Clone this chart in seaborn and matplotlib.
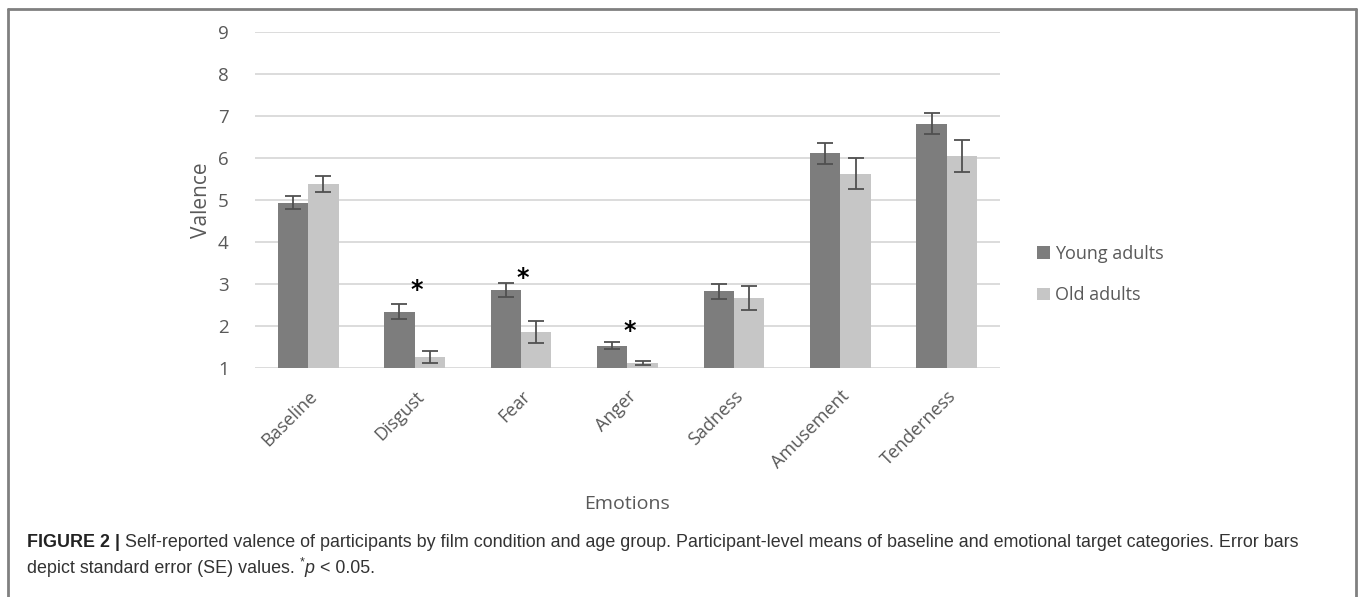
import pandas as pd
import numpy as np
import matplotlib.pyplot as plt
import seaborn as sns
from matplotlib.patches import Patch
from matplotlib.lines import Line2D

# data
emotions = ['Baseline', 'Disgust', 'Fear', 'Anger', 'Sadness', 'Amusement', 'Tenderness']
groups = ['Young adults', 'Old adults']
young_mean = [4.94, 2.34, 2.86, 1.53, 2.83, 6.11, 6.82]
old_mean = [5.38, 1.26, 1.86, 1.12, 2.66, 5.63, 6.05]
young_se = [0.16, 0.18, 0.17, 0.08, 0.18, 0.25, 0.24]
old_se = [0.19, 0.14, 0.26, 0.05, 0.29, 0.37, 0.39]
sig_emotions = ['Disgust', 'Fear', 'Anger']
sig_y = [2.86, 3.14, 1.88]

colors = ['#7d7d7d', '#c6c6c6']
txt_gray = '#595959'

df = pd.DataFrame({
    'Emotions': emotions * 2,
    'Valence': young_mean + old_mean,
    'Group': [groups[0]] * len(emotions) + [groups[1]] * len(emotions),
})

sns.set_style('white')
plt.rcParams['font.family'] = ['Open Sans', 'DejaVu Sans']

fig = plt.figure(figsize=(13.65, 5.97), dpi=100)
ax = fig.add_axes([0.1868, 0.3836, 0.5458, 0.5628])

sns.barplot(data=df, x='Emotions', y='Valence', hue='Group', palette=colors,
            width=0.57, gap=0, errorbar=None, legend=False, ax=ax, zorder=2,
            linewidth=0)

# error bars at each bar centre
for cont, se in zip(ax.containers, [young_se, old_se]):
    xs = [b.get_x() + b.get_width() / 2 for b in cont]
    ys = [b.get_height() for b in cont]
    ax.errorbar(xs, ys, yerr=se, fmt='none', ecolor='#505050', elinewidth=1.3,
                capsize=6, capthick=1.3, zorder=3)

# significance markers
for emo, yy in zip(sig_emotions, sig_y):
    ax.text(emotions.index(emo) + 0.02, yy, '*', ha='center', va='center',
            fontsize=17, fontweight='bold', color='black', family='DejaVu Sans')

ax.set_ylim(1, 9)
ax.set_yticks(range(1, 10))
ax.set_xlim(-0.5, len(emotions) - 0.5)
ax.yaxis.grid(True, color='#d9d9d9', linewidth=1.3, zorder=0)
ax.set_axisbelow(True)
for s in ax.spines.values():
    s.set_visible(False)
ax.tick_params(axis='both', length=0, colors=txt_gray)
ax.tick_params(axis='y', pad=19, labelsize=13.5)
ax.tick_params(axis='x', pad=14, labelsize=13)
plt.setp(ax.get_xticklabels(), rotation=45, ha='right', rotation_mode='anchor')
ax.set_ylabel('Valence', fontsize=15, color=txt_gray, labelpad=4)
ax.set_xlabel('Emotions', fontsize=14, color=txt_gray, labelpad=16)

handles = [Patch(facecolor=c, edgecolor='none') for c in colors]
fig.legend(handles, groups, loc='center left', bbox_to_anchor=(0.748, 0.54),
           frameon=False, fontsize=13, labelcolor=txt_gray, handlelength=0.7,
           handleheight=0.7, handletextpad=0.3, labelspacing=1.3)

# figure frame
frame_kw = dict(color='#808080', linewidth=2, transform=fig.transFigure)
fig.add_artist(Line2D([0.0055, 0.9935], [0.985, 0.985], **frame_kw))
fig.add_artist(Line2D([0.0055, 0.0055], [0.0, 0.985], **frame_kw))
fig.add_artist(Line2D([0.9935, 0.9935], [0.0, 0.985], **frame_kw))

# caption, drawn piece by piece
renderer = fig.canvas.get_renderer()


def write_line(pieces, x0, y0):
    x = x0
    for txt, kw in pieces:
        base = dict(fontsize=12.9, color='#333333', family='Liberation Sans',
                    va='baseline')
        base.update(kw)
        dy = base.pop('dy', 0)
        t = fig.text(x, y0 + dy, txt, **base)
        bb = t.get_window_extent(renderer)
        x += bb.width / fig.bbox.width


cap1 = ('Self-reported valence of participants by film condition and age group. '
        'Participant-level means of baseline and emotional target categories. Error bars')
write_line([('FIGURE 2 | ', dict(fontweight='bold', color='#222222')),
            (cap1, {})], 0.0198, 1 - 547 / 597)
write_line([('depict standard error (SE) values. ', {}),
            ('*', dict(fontsize=9, dy=0.012)),
            ('p', dict(style='italic')),
            (' < 0.05.', {})], 0.0198, 1 - 573 / 597)

plt.savefig('out.png', dpi=100)
